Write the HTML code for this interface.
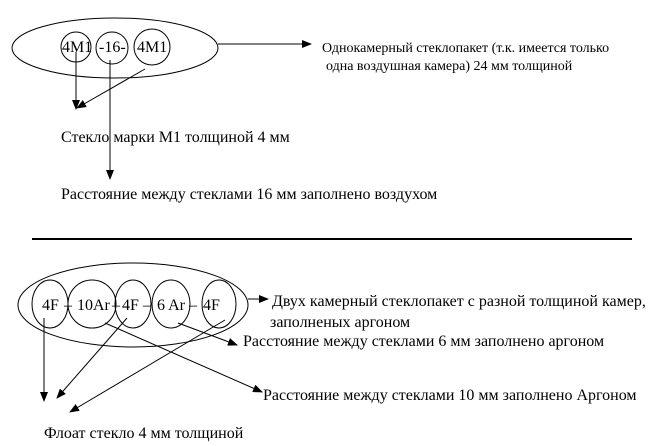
<!DOCTYPE html>
<html><head><meta charset="utf-8"><style>
html,body{margin:0;padding:0;background:#fff;}
svg{display:block;}
text{font-family:"Liberation Serif",serif;font-size:16px;fill:#000;}
.s{font-size:14px;}
</style></head><body>
<svg width="656" height="446" viewBox="0 0 656 446" xmlns="http://www.w3.org/2000/svg">
<defs><marker id="a" markerWidth="10" markerHeight="8" refX="9" refY="4" orient="auto" markerUnits="userSpaceOnUse"><path d="M0,0 L10,4 L0,8 z" fill="#000"/></marker></defs>
<g fill="none" stroke="#000" stroke-width="1">
<ellipse cx="115" cy="48" rx="103" ry="30"/>
<circle cx="76" cy="47" r="15"/>
<circle cx="112" cy="48" r="16"/>
<circle cx="152" cy="47" r="18"/>
<line x1="218" y1="44" x2="311" y2="44" marker-end="url(#a)"/>
<line x1="76" y1="52" x2="76" y2="109" marker-end="url(#a)"/>
<line x1="145" y1="69" x2="77" y2="108" marker-end="url(#a)"/>
<line x1="110" y1="60" x2="110" y2="179" marker-end="url(#a)"/>
<line x1="32" y1="239" x2="632" y2="239" stroke-width="2"/>
<ellipse cx="133" cy="305" rx="115" ry="42"/>
<ellipse cx="50" cy="304" rx="18" ry="24"/>
<ellipse cx="92" cy="304" rx="24" ry="24"/>
<ellipse cx="133" cy="304" rx="18" ry="24"/>
<ellipse cx="171" cy="304" rx="19" ry="24"/>
<ellipse cx="219" cy="304" rx="17" ry="24"/>
<line x1="248" y1="299" x2="268" y2="299" marker-end="url(#a)"/>
<line x1="44" y1="318" x2="44" y2="401" marker-end="url(#a)"/>
<line x1="127" y1="318" x2="57" y2="398" marker-end="url(#a)"/>
<line x1="225" y1="320" x2="70" y2="412" marker-end="url(#a)"/>
<line x1="105" y1="323" x2="262" y2="392" marker-end="url(#a)"/>
<line x1="178" y1="323" x2="237" y2="345" marker-end="url(#a)"/>
</g>
<text x="62" y="52">4M1</text>
<text x="99" y="52">-16-</text>
<text x="137" y="52">4M1</text>
<text class="s" x="322" y="52">Однокамерный стеклопакет (т.к. имеется только</text>
<text class="s" x="326" y="70">одна воздушная камера)  24 мм толщиной</text>
<text x="61" y="142">Стекло марки М1 толщиной 4 мм</text>
<text x="61" y="199">Расстояние между стеклами 16 мм заполнено воздухом</text>
<text x="42" y="310">4F</text>
<text x="64" y="310">–</text>
<text x="77" y="310">10Ar</text>
<text x="112" y="310">–</text>
<text x="122" y="310">4F</text>
<text x="143" y="310">–</text>
<text x="157" y="310">6 Ar</text>
<text x="189" y="310">–</text>
<text x="203" y="310">4F</text>
<text x="272" y="306">Двух камерный стеклопакет с разной толщиной камер,</text>
<text x="270" y="327">заполненых аргоном</text>
<text x="243" y="346">Расстояние между стеклами 6 мм заполнено аргоном</text>
<text x="263" y="400">Расстояние между стеклами 10 мм заполнено Аргоном</text>
<text x="44" y="438">Флоат стекло 4 мм толщиной</text>
</svg>
</body></html>
